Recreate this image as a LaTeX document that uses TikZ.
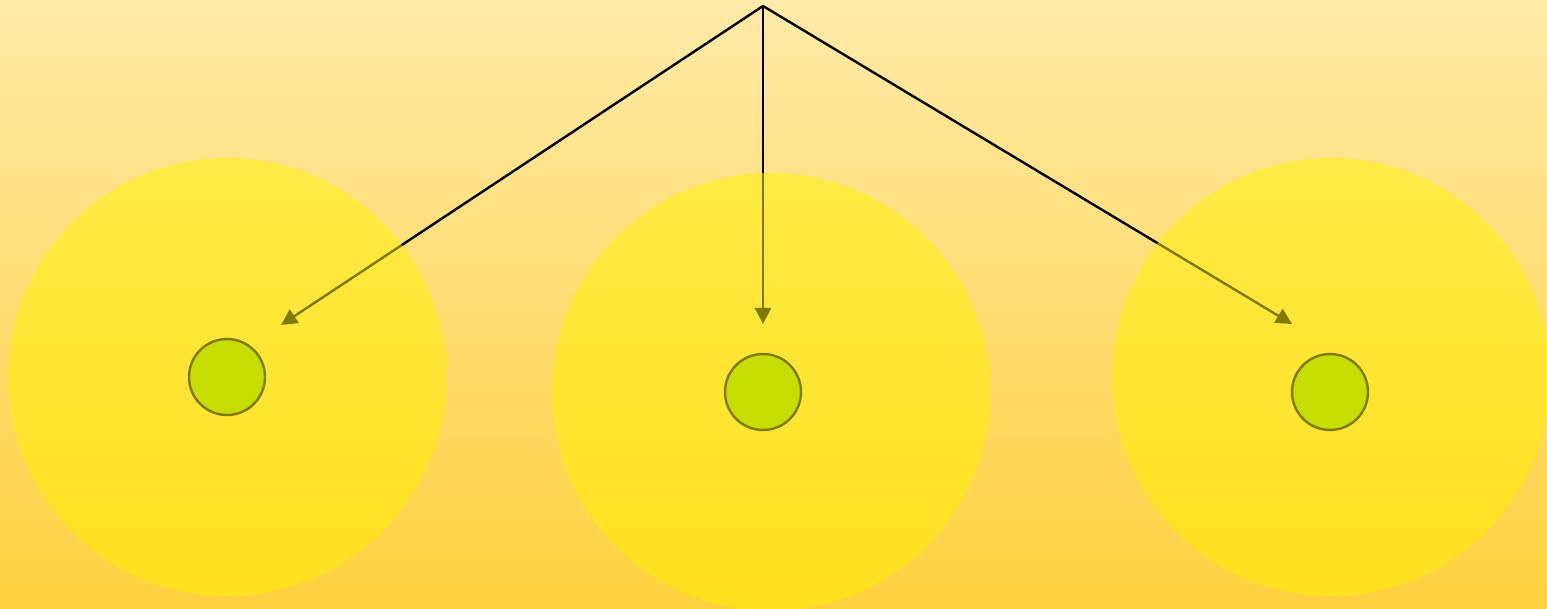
\documentclass[tikz,border=0pt]{standalone}
\usetikzlibrary{arrows.meta}
\definecolor{bgtop}{RGB}{255,234,168}
\definecolor{bgbot}{RGB}{255,208,62}
\definecolor{dotfill}{RGB}{140,200,0}
\tikzset{
  link/.style={draw=black, line width=2.4pt, -{Triangle[length=16pt,width=16pt]}},
  dot/.style={circle, draw=black, line width=2.4pt, fill=dotfill, minimum size=76pt, inner sep=0pt},
  halo/.style={circle, fill=yellow, fill opacity=0.5, minimum size=438pt, inner sep=0pt}
}
\begin{document}
\begin{tikzpicture}[x=1pt,y=-1pt]
\useasboundingbox (0,0) rectangle (1547,609);
\clip (0,0) rectangle (1547,609);
\shade[top color=bgtop, bottom color=bgbot] (0,0) rectangle (1547,609);
\coordinate (apex) at (763,6);
\coordinate (tl) at (281,325);
\coordinate (tm) at (763,324);
\coordinate (tr) at (1292,324);
\draw[link] (apex) -- (tl);
\draw[link] (apex) -- (tm);
\draw[link] (apex) -- (tr);
\node[dot] (d1) at (227,377) {};
\node[dot] (d2) at (763,392) {};
\node[dot] (d3) at (1330,392) {};
\node[halo] (h1) at (227,377) {};
\node[halo] (h2) at (771,392) {};
\node[halo] (h3) at (1331,377) {};
\end{tikzpicture}
\end{document}
